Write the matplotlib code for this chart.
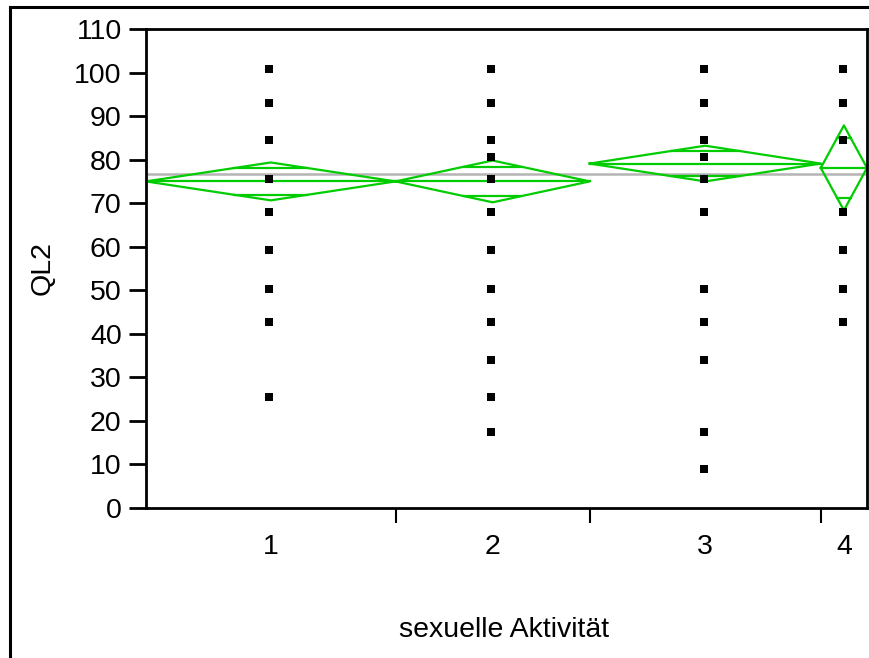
# plot.py
# QL2 by sexuelle Aktivität, JMP-style means diamonds with raw points.
import numpy as np
import matplotlib.pyplot as plt
from matplotlib.lines import Line2D

# group data
groups = ["1", "2", "3", "4"]
group_n = [27, 21, 25, 5]
group_means = [75.0, 75.0, 79.1, 78.1]
group_ci = [4.35, 4.8, 4.1, 9.75]
grand_mean = 76.8

pts_g1 = [100.8, 93, 84.5, 75.5, 68, 59.2, 50.3, 42.7, 25.5]
pts_g2 = [100.8, 93, 84.5, 80.5, 75.5, 68, 59.2, 50.3, 42.7, 34, 25.5, 17.5]
pts_g3 = [100.8, 93, 84.5, 80.5, 75.5, 68, 50.3, 42.7, 34, 17.5, 9]
pts_g4 = [100.8, 93, 84.5, 68, 59.2, 50.3, 42.7]
points = [pts_g1, pts_g2, pts_g3, pts_g4]

yticks = list(range(0, 111, 10))

GREEN = "#00cc00"
GREY = "#b4b4b4"

plt.rcParams["font.family"] = ["Liberation Sans", "DejaVu Sans"]
plt.rcParams["font.size"] = 20.5

W, H = 869, 658
fig = plt.figure(figsize=(W / 100, H / 100), dpi=100)
ax = fig.add_axes([146 / W, 150 / H, 721 / W, 479 / H])

edges = np.concatenate([[0], np.cumsum(group_n)])
centers = (edges[:-1] + edges[1:]) / 2

# grand mean
ax.axhline(grand_mean, color=GREY, lw=1.8, zorder=1)

# diamonds
k = 1 / np.sqrt(2)
for x0, x1, xc, m, h in zip(edges[:-1], edges[1:], centers, group_means, group_ci):
    ax.plot([x0, xc, x1, xc, x0], [m, m + h, m, m - h, m], color=GREEN, lw=1.6, zorder=2)
    ax.plot([x0, x1], [m, m], color=GREEN, lw=1.6, zorder=2)
    half = (1 - k) * (x1 - x0) / 2
    for s in (1, -1):
        ax.plot([xc - half, xc + half], [m + s * k * h] * 2, color=GREEN, lw=1.6, zorder=2)

# raw points
for xc, p in zip(centers, points):
    ax.plot([xc - 0.15] * len(p), p, "s", color="black", ms=5.3, mew=0, zorder=3, ls="none")

ax.set_xlim(edges[0], edges[-1])
ax.set_ylim(0, 110)
ax.set_yticks(yticks)
ax.set_yticklabels([str(t) for t in yticks])
ax.tick_params(axis="y", direction="out", length=12, width=2, pad=5.5)

ax.set_xticks(edges[1:-1])
ax.set_xticklabels([])
ax.set_xticks(centers, minor=True)
ax.set_xticklabels(groups, minor=True)
ax.tick_params(axis="x", which="major", direction="out", length=10.5, width=1.5)
ax.tick_params(axis="x", which="minor", length=0, pad=19)

for sp in ax.spines.values():
    sp.set_linewidth(2)

fig.text(43 / W, 1 - 268 / H, "QL2", rotation=90, ha="center", va="center")
fig.text(504 / W, 1 - 637 / H, "sexuelle Aktivität", ha="center", va="baseline")

# outer frame (top and left edges)
fig.add_artist(Line2D([10 / W, 1], [1 - 7 / H, 1 - 7 / H], color="black", lw=2.2,
                      transform=fig.transFigure))
fig.add_artist(Line2D([10 / W, 10 / W], [0, 1 - 7 / H], color="black", lw=2.2,
                      transform=fig.transFigure))

fig.savefig("out.png", dpi=100)
